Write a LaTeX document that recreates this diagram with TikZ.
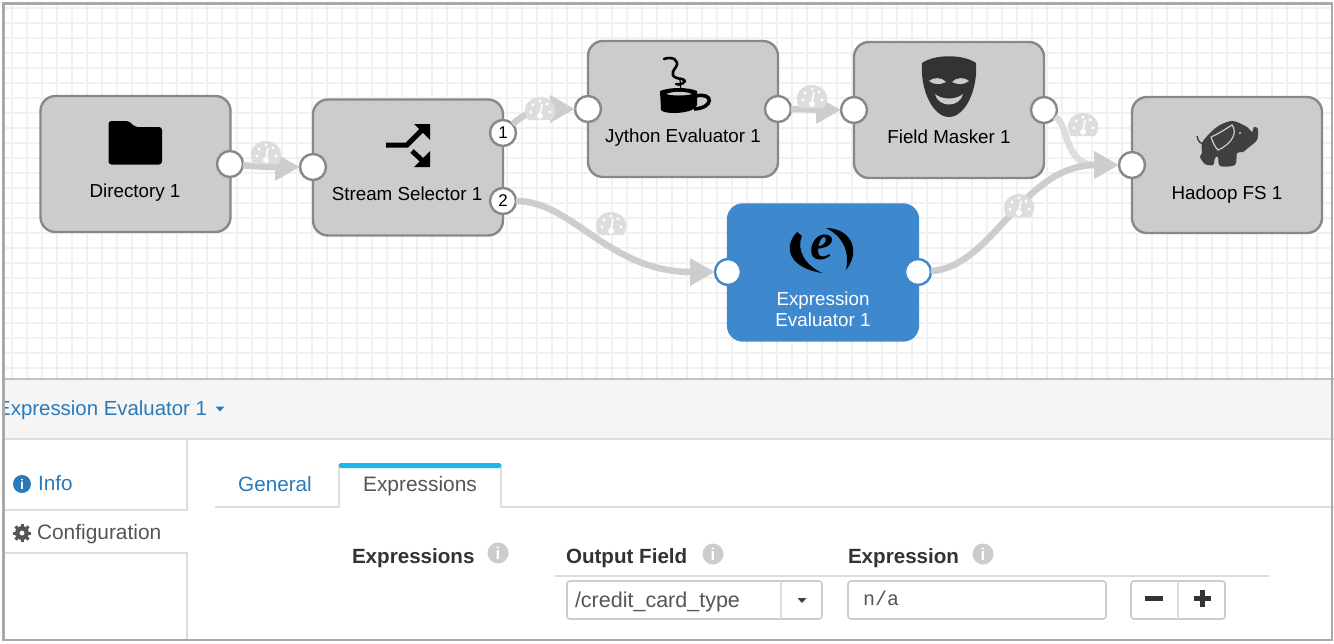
\documentclass[tikz,border=0pt]{standalone}
\usepackage{fontspec}
\setmainfont{Liberation Sans}
\setmonofont{Liberation Mono}
\newfontfamily\eicon{Liberation Serif}
\usetikzlibrary{arrows.meta}
\definecolor{gridgray}{HTML}{F1F1F1}
\definecolor{stagegray}{HTML}{CCCCCC}
\definecolor{stageline}{HTML}{888888}
\definecolor{stageblue}{HTML}{3E88CE}
\definecolor{flowgray}{HTML}{CDCDCD}
\definecolor{gaugegray}{HTML}{DDDDDD}
\definecolor{framegray}{HTML}{A9A9A9}
\definecolor{panelgray}{HTML}{F5F5F5}
\definecolor{panelline}{HTML}{DDDDDD}
\definecolor{linkblue}{HTML}{2A7AB9}
\definecolor{textgray}{HTML}{555555}
\definecolor{tabcyan}{HTML}{1DB7EC}

\begin{document}
\begin{tikzpicture}[x=1pt,y=-1pt,
  every node/.style={inner sep=0pt,outer sep=0pt},
  capline/.style={text height=#1,text depth=0pt},
  gridline/.style={draw=gridgray,line width=1.2pt},
  stage/.style={draw=stageline,line width=2.4pt,fill=stagegray,rounded corners=15pt,minimum width=190pt,minimum height=136pt},
  stagesel/.style={stage,draw=stageblue,fill=stageblue},
  stagelabel/.style={font=\fontsize{18.8}{21}\selectfont,text=black,align=center},
  port/.style={circle,draw=stageline,line width=2.4pt,fill=white,minimum size=26pt},
  portsel/.style={port,draw=stageblue},
  flow/.style={->,>={Triangle[length=25pt,width=26pt]},line width=6.5pt,draw=flowgray},
  gauge/.pic={
    \fill[gaugegray] (-12,11) .. controls (-20,0) and (-12,-12) .. (0,-12) .. controls (12,-12) and (20,0) .. (12,11) -- cycle;
    \foreach \p in {(-9,3),(-7,-4),(0,-8),(7,-5),(10,3)} \fill[white] \p circle[radius=1.7];
    \draw[white,line width=1.6pt] (0,6) -- (2,-5);
    \fill[white] (0,7) circle[radius=3];
  },
  paneltext/.style={capline=15pt,font=\fontsize{20.9}{24}\selectfont,text=textgray},
  panellink/.style={capline=15pt,font=\fontsize{20.7}{24}\selectfont,text=linkblue},
  panelhead/.style={capline=15pt,font=\fontsize{20.6}{24}\bfseries\selectfont,text=black!80},
  hint/.style={circle,fill=stagegray,minimum size=21pt,text=white,font=\fontsize{17}{17}\bfseries\selectfont},
  panelrule/.style={draw=panelline,line width=1.6pt},
  inputbox/.style={draw=stagegray,line width=1.6pt,rounded corners=3pt,fill=white},
]
\useasboundingbox (0,0) rectangle (1334,643);
\fill[white] (0,0) rectangle (1334,643);

% grid
\foreach \gx in {12,27,...,1330} \draw[gridline] (\gx,4) -- (\gx,378);
\foreach \gy in {8,23,...,378} \draw[gridline] (4,\gy) -- (1331,\gy);

% stages
\node[stage] (dir) at (135.5,164) {};
\node[stage] (sel) at (408,167.5) {};
\node[stage] (jyt) at (683,109) {};
\node[stage] (msk) at (949,110) {};
\node[stage] (hdf) at (1227,165) {};
\node[stagesel] (exp) at (823,272.5) {};

\node[stagelabel,capline=13.5pt] (dirlabel) at (135,191) {Directory 1};
\node[stagelabel,capline=13.5pt] (sellabel) at (407,194) {Stream Selector 1};
\node[stagelabel,capline=13.5pt] (jytlabel) at (683,136) {Jython Evaluator 1};
\node[stagelabel,capline=13.5pt] (msklabel) at (949,137) {Field Masker 1};
\node[stagelabel,capline=13.5pt] (hdflabel) at (1227,193) {Hadoop FS 1};
\node[stagelabel,text=white] (explabel) at (823,309.5) {Expression\\Evaluator 1};

% ports
\node[port] (dirout) at (230,164) {};
\node[port] (selin) at (313,167) {};
\node[port,font=\fontsize{17}{17}\selectfont] (selone) at (503,133) {1};
\node[port,font=\fontsize{17}{17}\selectfont] (seltwo) at (503,201) {2};
\node[port] (jytin) at (588,109) {};
\node[port] (jytout) at (778,109) {};
\node[port] (mskin) at (854,110) {};
\node[port] (mskout) at (1044,110) {};
\node[port] (hdfin) at (1132,165) {};
\node[portsel] (expin) at (728,272) {};
\node[portsel] (expout) at (918,272) {};

% connectors
\draw[flow] (dirout) .. controls +(30,3) and +(-30,0) .. (selin);
\draw[flow] (selone) .. controls +(30,-28) and +(-30,0) .. (jytin);
\draw[flow] (jytout) .. controls +(25,0) and +(-25,0) .. (mskin);
\draw[flow] (seltwo) .. controls +(70,0) and +(-120,0) .. (expin);
\draw[flow,draw=gaugegray] (mskout) .. controls +(25,15) and +(-68,0) .. (hdfin);
\draw[flow] (expout) .. controls +(75,-5) and +(-110,0) .. (hdfin);

\pic at (266,153) {gauge};
\pic at (540,109) {gauge};
\pic at (812,97) {gauge};
\pic at (611,224) {gauge};
\pic at (1083,125) {gauge};
\pic at (1019,206) {gauge};

% folder
\fill[rounded corners=3pt] (108.5,164.5) -- (108.5,121) -- (129,121) -- (135,127) -- (162,127) -- (162,164.5) -- cycle;

% shuffle
\draw[line width=5pt] (386,145) -- (407,145) -- (424,128);
\draw[line width=5pt] (412,151) -- (425,163);
\fill (430,124) -- (430,140) -- (414,124) -- cycle;
\fill (430,167) -- (430,151) -- (414,167) -- cycle;

% cup
\draw[line width=2.6pt,line cap=round] (664,59) .. controls (672,56) and (680,60) .. (676,67) .. controls (670,74) and (672,78) .. (682,79) .. controls (690,82) and (678,86) .. (676,84);
\draw[line width=1.2pt] (680,80) -- (681,92);
\fill (660,91) .. controls (670,87) and (688,87) .. (697,91) -- (697,105) .. controls (695,114) and (664,115) .. (661,110) -- cycle;
\draw[line width=3.6pt] (696,96) .. controls (714,92) and (714,108) .. (694,109);
\fill[stagegray] (666,94) .. controls (674,91) and (684,91) .. (692,94) .. controls (684,96) and (674,96) .. (666,94) -- cycle;

% mask
\fill[black!80] (922,63) .. controls (935,54) and (963,54) .. (976,63) .. controls (978,90) and (965,117) .. (949,117) .. controls (933,117) and (920,90) .. (922,63) -- cycle;
\fill[stagegray] (929,81) .. controls (933,77) and (942,77) .. (946,82) .. controls (940,85) and (934,85) .. (929,81) -- cycle;
\fill[stagegray] (952,82) .. controls (956,77) and (965,77) .. (969,81) .. controls (964,85) and (958,85) .. (952,82) -- cycle;
\fill[stagegray] (935,94) .. controls (942,100) and (956,100) .. (963,94) .. controls (960,108) and (938,108) .. (935,94) -- cycle;

% elephant
\fill[black!75] plot[smooth cycle,tension=0.5] coordinates {(1202,153) (1202,143) (1210,133) (1220,125) (1233,121) (1247,127) (1252,132) (1254,127) (1258,129) (1257,140) (1248,148) (1243,152) (1237,153) (1235,165) (1220,166) (1218,157) (1215,158) (1213,165) (1205,164) (1200,157)};
\draw[black!75,line width=1.4pt] (1197,136) .. controls (1198,142) and (1201,144) .. (1205,144);
\draw[stagegray,line width=1.2pt] (1211,137) .. controls (1218,134) and (1224,130) .. (1232,125) .. controls (1238,132) and (1232,144) .. (1218,150) .. controls (1214,146) and (1213,142) .. (1211,137);
\fill[stagegray] (1240,133) circle[radius=1.2];

% e icon
\node[font=\eicon\fontsize{52}{52}\bfseries\itshape\selectfont,text=black] (expicon) at (822,247) {e};
\fill (797,232) .. controls (782,248) and (790,268) .. (822,273) .. controls (805,265) and (796,250) .. (802,236) -- cycle;
\fill (826,228) .. controls (850,228) and (862,250) .. (846,270) .. controls (850,250) and (842,236) .. (826,228) -- cycle;

% panel
\fill[panelgray] (3,379) rectangle (1334,439);
\draw[draw=framegray!70,line width=1.6pt] (3,379) -- (1334,379);
\draw[panelrule] (3,439) -- (1334,439);
\node[panellink,anchor=east,font=\fontsize{20.4}{24}\selectfont] (paneltitle) at (207,407.5) {Expression Evaluator 1};
\fill[linkblue] (215.5,406.5) -- (224.5,406.5) -- (220,411.5) -- cycle;

% left tabs
\draw[panelrule] (187,439) -- (187,510) -- (3,510);
\draw[panelrule] (3,553) -- (187,553) -- (187,640);
\node[circle,fill=linkblue,minimum size=18pt,text=white,font=\fontsize{14}{14}\bfseries\selectfont] (infoicon) at (22,484) {i};
\node[panellink,anchor=west] (infotab) at (38,483) {Info};
\fill[textgray,even odd rule] (22,533) circle[radius=7] (22,533) circle[radius=2.6];
\foreach \t in {0,45,...,315} \draw[textgray,line width=3pt] (22,533) ++(\t:6) -- ++(\t:3.2);
\node[paneltext,anchor=west] (conftab) at (37,532) {Configuration};

% top tabs
\draw[panelrule] (215,507) -- (339,507);
\draw[panelrule] (501,507) -- (1334,507);
\draw[panelrule] (339,507) -- (339,465) -- (501,465) -- (501,507);
\fill[tabcyan,rounded corners=1.5pt] (339,468) -- (339,463) -- (501,463) -- (501,468) -- cycle;
\node[panellink] (gentab) at (275,484) {General};
\node[paneltext] (exprtab) at (420,484) {Expressions};

% form
\node[panelhead,anchor=west] (exprhead) at (352,556) {Expressions};
\node[hint] (exprhint) at (498,553) {i};
\node[panelhead,anchor=west] (fieldhead) at (566,556) {Output Field};
\node[hint] (fieldhint) at (713,554) {i};
\node[panelhead,anchor=west] (valuehead) at (848,556) {Expression};
\node[hint] (valuehint) at (983,554) {i};
\draw[panelrule] (555,576) -- (1269,576);

\draw[inputbox] (567,581) rectangle (822,619);
\draw[panelrule] (781,581) -- (781,619);
\node[paneltext,anchor=west,font=\fontsize{21.5}{24}\selectfont] (fieldval) at (575,600) {/credit\_card\_type};
\fill[black!75] (797.5,598) -- (806.5,598) -- (802,603) -- cycle;
\draw[inputbox] (848,581) rectangle (1106,619);
\node[font=\ttfamily\fontsize{20}{20}\selectfont,text=textgray,anchor=west] (valueval) at (863,598) {n/a};
\draw[inputbox] (1131,581) rectangle (1225,619);
\draw[panelrule] (1178,581) -- (1178,619);
\fill[black!80] (1145,596) rectangle (1163,600.5);
\fill[black!80] (1194,596) rectangle (1211,600.5);
\fill[black!80] (1200.3,590) rectangle (1204.7,607);

% frame
\fill[white] (0,0) rectangle (3,643);
\fill[white] (0,640) rectangle (1334,643);
\draw[framegray,line width=2.4pt] (3.5,3.5) rectangle (1332,640);
\end{tikzpicture}
\end{document}
